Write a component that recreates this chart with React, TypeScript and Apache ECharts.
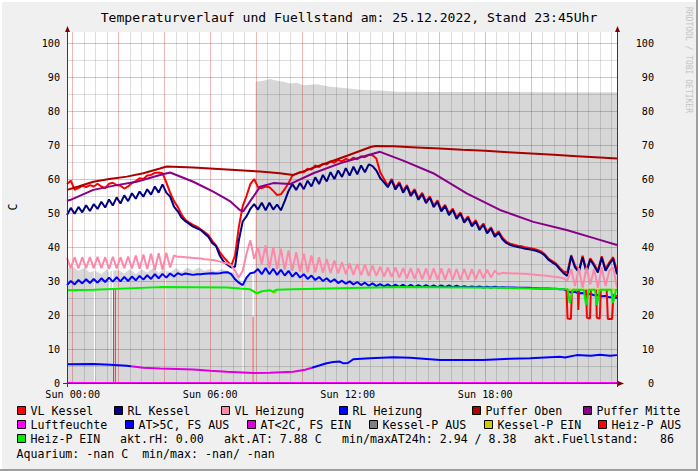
import React, { useEffect, useRef } from 'react';
import * as echarts from 'echarts';

const FONT = "'DejaVu Sans Mono', monospace";

// ---------- texts ----------
const titleText = 'Temperaturverlauf und Fuellstand am: 25.12.2022, Stand 23:45Uhr';
const yUnitText = 'C';
const watermarkText = 'RRDTOOL / TOBI OETIKER';
const xTickHours = [0, 6, 12, 18];
const xTickLabels = ['Sun 00:00', 'Sun 06:00', 'Sun 12:00', 'Sun 18:00'];

// ---------- time base of the sampled series ----------
const sampleStartHour = -0.25; // 23:45 of the previous day
const sampleStepMinutes = 10;
const axisMinHour = -0.25;
const axisMaxHour = 23.75;

// ---------- sampled series (every 10 minutes, 145 values) ----------
const vlKessel = [
  58.5, 59.5, 56.8, 57.3, 58.0, 57.6, 58.2, 57.8, 58.6, 57.8,
  57.3, 58.6, 58.9, 58.2, 58.0, 57.2, 57.8, 58.8, 59.4, 60.2,
  60.0, 61.0, 61.2, 61.8, 61.9, 61.7, 59.0, 56.0, 53.5, 51.8,
  49.5, 48.0, 47.2, 46.5, 46.0, 45.2, 44.4, 43.5, 41.8, 40.5,
  38.5, 37.0, 35.8, 34.5, 37.5, 46.0, 52.0, 55.0, 58.5, 60.0,
  57.6, 57.3, 57.8, 57.6, 56.5, 55.3, 55.5, 57.0, 58.8, 61.0,
  61.5, 62.0, 62.0, 63.0, 62.8, 64.0, 63.5, 64.5, 64.3, 65.2,
  64.8, 65.6, 65.2, 65.9, 65.5, 66.3, 65.8, 66.7, 66.4, 67.1,
  67.0, 66.0, 62.0, 60.0, 58.0, 60.0, 57.4, 59.1, 56.5, 58.2,
  55.5, 57.0, 54.4, 55.9, 53.4, 54.9, 52.2, 53.7, 51.0, 52.4,
  49.9, 51.3, 48.8, 50.2, 47.7, 49.0, 46.6, 47.9, 45.5, 46.9,
  44.5, 45.8, 43.5, 44.6, 42.7, 41.6, 41.0, 40.7, 40.4, 40.2,
  39.9, 39.7, 39.5, 39.2, 38.8, 38.0, 36.7, 35.9, 35.2, 33.9,
  32.8, 32.5, 37.6, 34.5, 33.0, 37.4, 33.0, 36.7, 35.0, 33.0,
  37.3, 33.5, 35.5, 37.0, 33.0,
];

const rlKessel = [
  49.4, 51.5, 49.8, 51.8, 50.2, 52.3, 50.6, 52.6, 51.2, 53.3,
  51.6, 54.0, 52.2, 54.6, 52.8, 55.2, 53.5, 55.8, 54.2, 56.3,
  54.8, 57.0, 55.4, 57.8, 56.0, 58.4, 56.0, 54.8, 51.9, 50.5,
  48.6, 47.6, 46.8, 46.0, 45.5, 45.0, 44.0, 43.0, 41.2, 40.3,
  37.5, 35.7, 34.8, 34.0, 34.2, 42.0, 47.5, 49.0, 51.2, 52.6,
  51.0, 53.0, 50.8, 53.0, 51.0, 52.5, 50.8, 53.5, 56.5, 58.5,
  56.8, 58.8, 57.0, 59.5, 57.8, 60.5, 58.5, 61.2, 59.3, 62.0,
  60.0, 62.5, 60.6, 63.2, 61.0, 63.6, 61.4, 64.0, 62.0, 64.3,
  63.8, 62.5, 60.3, 59.0, 57.6, 59.6, 56.9, 58.7, 56.0, 57.8,
  55.0, 56.6, 53.9, 55.5, 52.9, 54.5, 51.7, 53.3, 50.5, 52.0,
  49.4, 50.9, 48.3, 49.8, 47.2, 48.6, 46.1, 47.5, 45.0, 46.5,
  44.0, 45.4, 43.0, 44.2, 42.3, 41.2, 40.6, 40.3, 40.0, 39.8,
  39.5, 39.3, 39.1, 38.8, 38.4, 37.6, 36.3, 35.5, 34.8, 33.5,
  32.3, 31.5, 37.3, 34.0, 32.6, 37.0, 32.6, 36.3, 34.5, 32.5,
  36.9, 33.0, 35.0, 36.5, 32.0,
];

const vlHeizung = [
  36.8, 33.8, 37.0, 33.7, 37.0, 33.8, 37.0, 33.8, 37.1, 33.8,
  37.0, 33.6, 37.1, 33.7, 37.0, 33.8, 37.2, 33.7, 37.5, 33.6,
  37.8, 33.5, 38.0, 33.3, 38.2, 33.3, 38.3, 34.0, 37.5, 37.1,
  37.1, 37.0, 36.9, 36.8, 36.7, 36.6, 36.4, 36.3, 36.2, 36.0,
  35.7, 35.4, 35.2, 34.6, 33.0, 31.0, 33.0, 38.0, 42.0, 36.5,
  40.0, 35.0, 40.5, 33.8, 40.0, 33.5, 39.5, 33.3, 39.0, 33.0,
  38.5, 32.8, 38.0, 32.6, 37.5, 32.5, 37.0, 32.4, 36.5, 32.3,
  36.0, 32.2, 35.5, 32.0, 35.2, 31.8, 35.0, 31.7, 34.8, 31.5,
  34.5, 31.5, 34.2, 31.3, 34.0, 31.2, 34.0, 31.0, 33.8, 30.8,
  33.8, 30.6, 33.7, 30.5, 33.7, 30.5, 33.7, 30.4, 33.7, 30.4,
  33.7, 30.4, 33.6, 30.3, 33.6, 30.4, 33.5, 30.5, 33.4, 30.8,
  33.3, 31.0, 33.0, 32.0, 32.4, 32.3, 32.3, 32.2, 32.2, 32.1,
  32.1, 32.0, 31.9, 31.8, 31.7, 31.6, 31.5, 31.3, 31.2, 31.0,
  30.8, 30.2, 33.5, 28.5, 33.8, 28.0, 34.0, 29.0, 33.5, 28.0,
  34.0, 28.5, 33.0, 34.0, 28.0,
];

const rlHeizung = [
  28.8, 30.0, 29.0, 30.3, 29.3, 30.5, 29.4, 30.6, 29.5, 30.8,
  29.7, 31.0, 29.8, 31.1, 29.9, 31.2, 30.0, 31.3, 30.2, 31.5,
  30.4, 31.7, 30.6, 32.0, 30.8, 32.1, 31.0, 32.2, 31.3, 32.3,
  31.8, 32.2, 32.0, 31.8, 32.0, 32.0, 32.1, 32.2, 32.3, 32.2,
  32.3, 32.5, 32.6, 32.0, 30.5, 29.5, 28.8, 31.0, 32.3, 32.5,
  33.5, 32.0, 33.8, 32.0, 33.6, 31.8, 33.3, 31.6, 33.0, 31.3,
  32.5, 31.0, 32.0, 30.6, 31.6, 30.3, 31.2, 30.0, 30.8, 29.7,
  30.5, 29.4, 30.1, 29.2, 29.9, 29.0, 29.7, 28.8, 29.5, 28.6,
  29.3, 28.5, 29.1, 28.4, 29.0, 28.3, 28.9, 28.3, 28.9, 28.2,
  28.9, 28.2, 28.8, 28.2, 28.8, 28.2, 28.7, 28.2, 28.7, 28.2,
  28.7, 28.2, 28.6, 28.2, 28.5, 28.2, 28.4, 28.2, 28.4, 28.1,
  28.3, 28.1, 28.3, 28.1, 28.2, 28.1, 28.1, 28.1, 28.0, 28.0,
  28.0, 28.0, 27.9, 27.9, 27.8, 27.8, 27.8, 27.7, 27.7, 27.6,
  27.6, 27.0, 26.6, 26.8, 26.3, 26.5, 26.0, 26.2, 25.8, 25.9,
  25.5, 25.6, 25.2, 25.3, 25.0,
];

// ---------- sparse series: [hour, value] ----------
const pufferOben: [number, number][] = [
  [-0.25, 56.8], [0.25, 57.8], [0.9, 59.2], [1.6, 60.0], [2.36, 60.7], [3.08, 61.7],
  [3.81, 63.1], [4.1, 63.7], [5.26, 63.4], [6.72, 62.8], [8.17, 62.2], [9.04, 61.7],
  [9.62, 61.2], [10.0, 62.1], [11.0, 64.5], [12.0, 66.9], [13.0, 69.4], [13.2, 69.7],
  [14.0, 69.6], [15.0, 69.3], [16.0, 69.0], [17.0, 68.6], [18.0, 68.3], [19.0, 67.9],
  [20.0, 67.5], [21.0, 67.1], [22.0, 66.7], [23.0, 66.3], [23.75, 66.0],
];

const pufferMitte: [number, number][] = [
  [-0.25, 53.6], [-0.12, 53.8], [0.9, 56.8], [1.92, 58.2], [2.79, 59.2], [3.81, 61.2],
  [4.25, 61.9], [5.26, 59.2], [6.13, 56.3], [6.86, 53.5], [7.29, 50.9], [7.44, 50.5],
  [7.88, 54.8], [8.17, 57.7], [8.75, 58.8], [9.48, 58.5], [10.5, 61.7], [11.66, 64.6],
  [12.68, 66.6], [13.41, 68.0], [14.42, 65.4], [15.73, 61.7], [17.19, 55.8], [18.64, 50.9],
  [20.1, 47.4], [21.55, 45.0], [23.0, 42.1], [23.75, 40.6],
];

const luftfeuchte: [number, number][] = [[-0.25, 0], [23.75, 0]];

const atAbove: [number, number | null][] = [
  [-0.25, 5.5], [0.9, 5.6], [1.63, 5.4], [2.36, 5.1], [2.54, 4.95], [2.6, null],
  [10.44, 4.5], [10.79, 5.2], [11.08, 5.8], [11.36, 6.2], [11.66, 6.3], [11.81, 5.8],
  [12.01, 5.9], [12.24, 7.0], [12.97, 7.3], [13.99, 7.6], [14.72, 7.4], [16.03, 6.8],
  [17.91, 6.8], [19.08, 7.1], [19.95, 7.3], [21.26, 7.7], [21.48, 7.5], [21.99, 8.2],
  [22.6, 8.0], [23.0, 8.3], [23.45, 8.0], [23.75, 8.2],
];

const atBelow: [number, number][] = [
  [2.54, 4.95], [3.08, 4.5], [3.81, 4.3], [5.26, 4.0], [5.99, 3.6], [6.72, 3.3],
  [7.88, 2.95], [8.61, 3.0], [9.62, 3.3], [10.14, 3.9], [10.44, 4.5],
];

const kesselPEin: [number, number | null][] = [
  [7.85, 27.3], [8.03, 26.2], [8.25, 26.9], [8.3, null],
  [8.7, 27.0], [8.8, 26.5], [8.9, 27.0], [8.95, null],
  [21.6, 27.4], [23.75, 27.4],
];

// Heiz-P AUS: short off-pulses (thin marks) and the off periods at the end of the day
const heizPAusMarks: [number, number | null][] = [
  [1.78, 27.5], [1.78, 0], [1.8, null],
  [1.86, 27.5], [1.86, 0], [1.9, null],
  [7.87, 19.5], [7.87, 0],
];
const heizPAus: [number, number | null][] = [
  [21.55, 27.4], [21.59, 19.0], [21.74, 18.8], [21.78, 27.2], [21.8, null],
  [22.04, 27.4], [22.06, 21.5], [22.1, 27.4], [22.2, null],
  [22.4, 27.4], [22.44, 19.2], [22.57, 19.0], [22.61, 27.2], [22.7, null],
  [22.84, 27.4], [22.87, 19.2], [23.0, 19.0], [23.04, 27.2], [23.1, null],
  [23.3, 27.4], [23.35, 18.8], [23.53, 18.8], [23.6, 26.0], [23.75, 25.5],
];

const heizPEin: [number, number][] = [
  [-0.25, 27.3], [0.9, 27.4], [3.81, 28.2], [6.72, 28.1], [7.3, 27.8], [7.73, 27.6],
  [8.03, 26.4], [8.26, 27.0], [8.6, 27.3], [8.75, 26.8], [8.87, 27.4], [9.62, 27.6],
  [11.66, 27.9], [14.28, 28.2], [18.64, 28.0], [21.52, 27.6], [21.6, 27.6], [21.69, 23.5],
  [21.82, 27.4], [22.3, 27.4], [22.4, 23.0], [22.52, 27.4], [22.79, 27.4], [22.87, 23.0],
  [23.0, 27.4], [23.5, 27.4], [23.57, 23.5], [23.71, 27.4], [23.75, 27.4],
];

const fuellstand: [number, number][] = [
  [-0.25, 33.5], [0.0, 34.2], [0.25, 33.0], [0.5, 33.8], [0.75, 32.5], [0.92, 33.0],
  [0.93, 0], [0.97, 0], [0.98, 33.0], [1.25, 32.0], [1.5, 33.5], [1.59, 32.5],
  [1.6, 0], [1.63, 0], [1.64, 32.8], [1.72, 33.0], [1.73, 0], [1.76, 0], [1.77, 33.0],
  [2.0, 33.2], [2.25, 32.2], [2.5, 33.5], [2.75, 32.0], [3.0, 33.4], [3.25, 32.5],
  [3.5, 33.8], [3.75, 32.4], [4.0, 33.5], [4.02, 0], [4.05, 0], [4.06, 33.0],
  [4.25, 32.5], [4.5, 33.8], [4.75, 32.6], [5.0, 34.0], [5.25, 33.0], [5.5, 34.0],
  [5.75, 33.0], [6.0, 33.5], [6.25, 32.8], [6.5, 33.5], [6.75, 33.0], [7.0, 32.5],
  [7.25, 31.0], [7.4, 29.0], [7.41, 0], [7.45, 0], [7.46, 30.0], [7.6, 31.5],
  [7.84, 32.0], [7.85, 0], [7.9, 0], [7.91, 33.0], [7.97, 33.0], [7.98, 88.6],
  [8.32, 88.9], [8.61, 89.4], [8.9, 88.9], [9.19, 88.6], [9.48, 88.1], [9.77, 88.3],
  [10.06, 87.6], [10.65, 87.9], [11.23, 87.1], [11.95, 86.7], [12.68, 86.2], [13.41, 86.0],
  [14.14, 85.7], [15.59, 85.6], [17.0, 85.6], [19.0, 85.6], [21.0, 85.5], [23.75, 85.5],
];

// ---------- legend ----------
const legendNames = [
  'VL Kessel', 'RL Kessel', 'VL Heizung', 'RL Heizung', 'Puffer Oben', 'Puffer Mitte',
  'Luftfeuchte', 'AT>5C, FS AUS', 'AT<2C, FS EIN', 'Kessel-P AUS', 'Kessel-P EIN', 'Heiz-P AUS',
  'Heiz-P EIN',
];
const legendColors = [
  '#FF0000', '#000080', '#FF88AA', '#0000FF', '#AA0000', '#880088',
  '#FF00FF', '#0000FF', '#DD00DD', '#808080', '#CCCC00', '#FF0000',
  '#00EE00',
];
const infoTexts = ['akt.rH: 0.00', 'akt.AT: 7.88 C', 'min/maxAT24h: 2.94 / 8.38', 'akt.Fuellstand:', '86'];
const aquariumText = 'Aquarium: -nan C  min/max: -nan/ -nan';

// layout of legend (pixels)
const legendBoxX = [17, 114, 221, 339, 472, 583, 17, 125, 247, 369, 484, 598, 17];
const legendRowY = [411, 411, 411, 411, 411, 411, 425, 425, 425, 425, 425, 425, 439];
const infoX = [120, 224, 342, 534, 660];

const COLORS = {
  vlKessel: legendColors[0], rlKessel: legendColors[1], vlHeizung: legendColors[2],
  rlHeizung: legendColors[3], pufferOben: legendColors[4], pufferMitte: legendColors[5],
  luft: legendColors[6], atAbove: legendColors[7], atBelow: legendColors[8],
  kesselPEin: legendColors[10], heizPAus: legendColors[11], heizPEin: legendColors[12],
};

function toPairs(vals: number[]): [number, number][] {
  return vals.map((v, i) => [sampleStartHour + (i * sampleStepMinutes) / 60, v]);
}

function lineSeries(name: string, data: any[], color: string, width = 2) {
  return {
    name,
    type: 'line',
    data,
    symbol: 'none',
    showSymbol: false,
    connectNulls: false,
    silent: true,
    z: 4,
    lineStyle: { width, color },
    itemStyle: { color },
    emphasis: { disabled: true },
  };
}

export default function App() {
  const ref = useRef<HTMLDivElement>(null);

  useEffect(() => {
    document.body.style.margin = '0';
    const chart = echarts.init(ref.current!, undefined, { renderer: 'svg' });

    const MAJOR = 'rgba(210,0,0,0.28)';
    const MINOR = 'rgba(0,0,0,0.13)';
    const gridLines: any[] = [];
    for (let h = 0; h <= 23.5; h += 0.5) {
      gridLines.push({ xAxis: h, lineStyle: { color: h % 2 === 0 ? MAJOR : MINOR, width: 1, type: 'solid' } });
    }
    for (let v = 5; v <= 100; v += 5) {
      gridLines.push({ yAxis: v, lineStyle: { color: v % 10 === 0 ? MAJOR : MINOR, width: 1, type: 'solid' } });
    }

    const axisLabelBase = { fontFamily: FONT, fontSize: 10.15, color: '#000' };

    const graphic: any[] = [];
    // frame shading
    graphic.push({ type: 'rect', shape: { x: 0, y: 0, width: 698, height: 2 }, style: { fill: '#FFFFFF' }, z: 10 });
    graphic.push({ type: 'rect', shape: { x: 0, y: 0, width: 2, height: 471 }, style: { fill: '#FFFFFF' }, z: 10 });
    graphic.push({ type: 'rect', shape: { x: 0, y: 469, width: 698, height: 2 }, style: { fill: '#9E9E9E' }, z: 11 });
    graphic.push({ type: 'rect', shape: { x: 696, y: 0, width: 2, height: 471 }, style: { fill: '#9E9E9E' }, z: 11 });
    // title
    graphic.push({
      type: 'text', x: 349, y: 17, z: 10,
      style: { text: titleText, fontFamily: FONT, fontSize: 13.1, fill: '#000', align: 'center', verticalAlign: 'middle' },
    });
    // watermark
    graphic.push({
      type: 'text', x: 688, y: 7, rotation: -Math.PI / 2, z: 10,
      style: { text: watermarkText, fontFamily: FONT, fontSize: 8, fill: '#C4C4C4', align: 'left', verticalAlign: 'middle' },
    });
    // unit
    graphic.push({
      type: 'text', x: 13, y: 207, rotation: Math.PI / 2, z: 10,
      style: { text: yUnitText, fontFamily: FONT, fontSize: 11.6, fill: '#000', align: 'center', verticalAlign: 'middle' },
    });
    // axes with arrows
    const AXIS = '#3A3A3A';
    const ARROW = '#7F0000';
    graphic.push({ type: 'line', z: 5, shape: { x1: 67.5, y1: 387, x2: 67.5, y2: 29 }, style: { stroke: AXIS, lineWidth: 1 } });
    graphic.push({ type: 'line', z: 5, shape: { x1: 617.5, y1: 387, x2: 617.5, y2: 29 }, style: { stroke: AXIS, lineWidth: 1 } });
    graphic.push({ type: 'line', z: 5, shape: { x1: 63, y1: 383.5, x2: 620, y2: 383.5 }, style: { stroke: AXIS, lineWidth: 1 } });
    graphic.push({ type: 'polygon', z: 6, shape: { points: [[65, 32], [70, 32], [67.5, 26]] }, style: { fill: ARROW } });
    graphic.push({ type: 'polygon', z: 6, shape: { points: [[615, 32], [620, 32], [617.5, 26]] }, style: { fill: ARROW } });
    graphic.push({ type: 'polygon', z: 6, shape: { points: [[618, 381], [618, 386], [624, 383.5]] }, style: { fill: ARROW } });

    // legend
    const LFONT = 11.6;
    legendNames.forEach((name, i) => {
      const bx = legendBoxX[i];
      const cy = legendRowY[i];
      graphic.push({
        type: 'rect', z: 10, shape: { x: bx + 0.5, y: cy - 4.5, width: 8, height: 8 },
        style: { fill: legendColors[i], stroke: '#000', lineWidth: 1 },
      });
      graphic.push({
        type: 'text', z: 10, x: bx + 13.5, y: cy,
        style: { text: name, fontFamily: FONT, fontSize: LFONT, fill: '#000', align: 'left', verticalAlign: 'middle' },
      });
    });
    infoTexts.forEach((t, i) => {
      graphic.push({
        type: 'text', z: 10, x: infoX[i], y: 439,
        style: { text: t, fontFamily: FONT, fontSize: LFONT, fill: '#000', align: 'left', verticalAlign: 'middle' },
      });
    });
    graphic.push({
      type: 'text', z: 10, x: 16.5, y: 454,
      style: { text: aquariumText, fontFamily: FONT, fontSize: LFONT, fill: '#000', align: 'left', verticalAlign: 'middle' },
    });

    const option: any = {
      animation: false,
      backgroundColor: '#F0F0F0',
      textStyle: { fontFamily: FONT },
      grid: { left: 67, top: 32, width: 550, height: 351, show: true, backgroundColor: '#FFFFFF', borderWidth: 0 },
      xAxis: {
        type: 'value', min: axisMinHour, max: axisMaxHour,
        axisLine: { show: false }, axisTick: { show: false }, splitLine: { show: false },
        axisLabel: {
          ...axisLabelBase, margin: 6,
          customValues: xTickHours,
          formatter: (v: number) => {
            const k = xTickHours.indexOf(v);
            return k >= 0 ? xTickLabels[k] : '';
          },
        },
      },
      yAxis: [
        {
          type: 'value', position: 'left', min: 0, max: 103.24, interval: 10,
          axisLine: { show: false }, axisTick: { show: false }, splitLine: { show: false },
          axisLabel: { ...axisLabelBase, margin: 7, showMaxLabel: false, formatter: (v: number) => (v <= 100 ? String(v) : '') },
        },
        {
          type: 'value', position: 'right', min: 0, max: 103.24, interval: 10,
          axisLine: { show: false }, axisTick: { show: false }, splitLine: { show: false },
          axisLabel: { ...axisLabelBase, margin: 37, align: 'right', showMaxLabel: false, formatter: (v: number) => (v <= 100 ? String(v) : '') },
        },
      ],
      graphic,
      series: [
        {
          name: 'Fuellstand', type: 'line', data: fuellstand, symbol: 'none', silent: true, z: 2,
          lineStyle: { width: 0 }, areaStyle: { color: '#D7D7D7', opacity: 1 },
          markLine: {
            silent: true, symbol: ['none', 'none'], label: { show: false }, z: 3,
            emphasis: { disabled: true }, animation: false, data: gridLines,
          },
        },
        lineSeries('Heiz-P AUS marks', heizPAusMarks, 'rgba(255,0,0,0.75)', 1),
        lineSeries('VL Kessel', toPairs(vlKessel), COLORS.vlKessel),
        lineSeries('RL Kessel', toPairs(rlKessel), COLORS.rlKessel),
        lineSeries('VL Heizung', toPairs(vlHeizung), COLORS.vlHeizung),
        lineSeries('RL Heizung', toPairs(rlHeizung), COLORS.rlHeizung),
        lineSeries('Puffer Oben', pufferOben, COLORS.pufferOben),
        lineSeries('Puffer Mitte', pufferMitte, COLORS.pufferMitte),
        lineSeries('Luftfeuchte', luftfeuchte, COLORS.luft),
        lineSeries('AT>5C, FS AUS', atAbove, COLORS.atAbove),
        lineSeries('AT<2C, FS EIN', atBelow, COLORS.atBelow),
        lineSeries('Kessel-P EIN', kesselPEin, COLORS.kesselPEin),
        lineSeries('Heiz-P AUS', heizPAus, COLORS.heizPAus),
        lineSeries('Heiz-P EIN', heizPEin, COLORS.heizPEin),
      ],
    };

    chart.setOption(option);
    return () => chart.dispose();
  }, []);

  return <div ref={ref} style={{ width: 698, height: 471 }} />;
}
